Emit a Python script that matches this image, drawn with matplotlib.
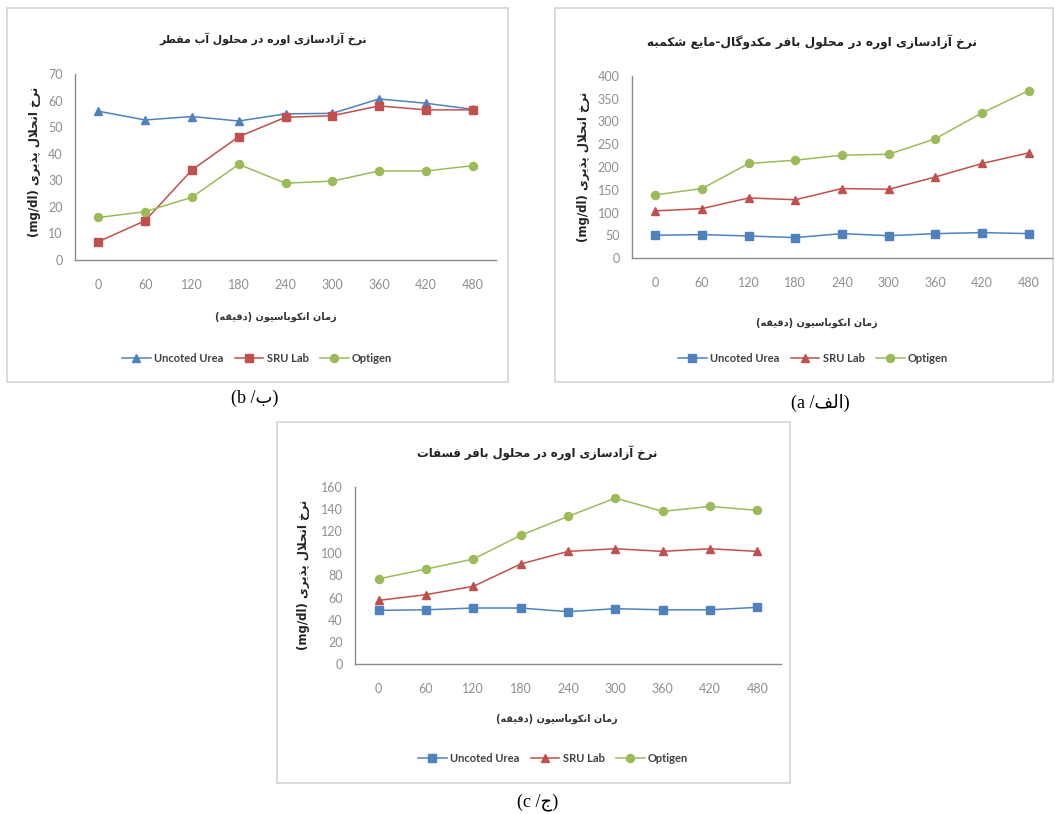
import numpy as np
import matplotlib
matplotlib.use("Agg")
import matplotlib.pyplot as plt
from matplotlib.patches import Rectangle

# Data
minutes = ["0", "60", "120", "180", "240", "300", "360", "420", "480"]
series_names = ["Uncoted Urea", "SRU Lab", "Optigen"]

# (b) distilled water
water_uncoated = [56, 52.7, 54, 52.3, 55, 55.2, 60.6, 59, 56.7]
water_sru = [6.9, 14.8, 33.9, 46.4, 53.7, 54.3, 58, 56.5, 56.5]
water_optigen = [16, 18.2, 23.6, 36, 28.9, 29.7, 33.5, 33.5, 35.5]

# (a) McDougall buffer - rumen fluid
rumen_uncoated = [50, 51.4, 48.4, 44.8, 53.6, 49, 53.6, 55.8, 53.6]
rumen_sru = [103.5, 108.6, 132, 128, 152.7, 151, 178, 207.7, 231]
rumen_optigen = [138.7, 152.7, 207.7, 215, 226, 228, 262, 319, 367.7]

# (c) phosphate buffer
phos_uncoated = [48.5, 49, 50.6, 50.6, 47.3, 50, 49, 49, 51.2]
phos_sru = [57.5, 62.7, 70.2, 90.4, 101.8, 104.2, 101.8, 104.2, 101.8]
phos_optigen = [77, 85.8, 94.9, 116.3, 133.4, 150, 138, 142.5, 138.9]

title_b = "نرخ آزادسازی اوره در محلول آب مقطر"
title_a = "نرخ آزادسازی اوره در محلول بافر مکدوگال-مایع شکمبه"
title_c = "نرخ آزادسازی اوره در محلول بافر فسفات"
xlabel_fa = "زمان انکوباسیون (دقیقه)"
ylabel_fa = "نرخ انحلال پذیری"

BLUE, RED, GREEN = "#4F81BD", "#C0504D", "#9BBB59"

# minimal Persian shaping: isolated, final, initial, medial
FORMS = {
    'ا': ('\uFE8D', '\uFE8E', None, None),
    'آ': ('\uFE81', '\uFE82', None, None),
    'ب': ('\uFE8F', '\uFE90', '\uFE91', '\uFE92'),
    'پ': ('\uFB56', '\uFB57', '\uFB58', '\uFB59'),
    'ت': ('\uFE95', '\uFE96', '\uFE97', '\uFE98'),
    'ج': ('\uFE9D', '\uFE9E', '\uFE9F', '\uFEA0'),
    'ح': ('\uFEA1', '\uFEA2', '\uFEA3', '\uFEA4'),
    'خ': ('\uFEA5', '\uFEA6', '\uFEA7', '\uFEA8'),
    'د': ('\uFEA9', '\uFEAA', None, None),
    'ذ': ('\uFEAB', '\uFEAC', None, None),
    'ر': ('\uFEAD', '\uFEAE', None, None),
    'ز': ('\uFEAF', '\uFEB0', None, None),
    'س': ('\uFEB1', '\uFEB2', '\uFEB3', '\uFEB4'),
    'ش': ('\uFEB5', '\uFEB6', '\uFEB7', '\uFEB8'),
    'ط': ('\uFEC1', '\uFEC2', '\uFEC3', '\uFEC4'),
    'ع': ('\uFEC9', '\uFECA', '\uFECB', '\uFECC'),
    'ف': ('\uFED1', '\uFED2', '\uFED3', '\uFED4'),
    'ق': ('\uFED5', '\uFED6', '\uFED7', '\uFED8'),
    'ک': ('\uFB8E', '\uFB8F', '\uFB90', '\uFB91'),
    'گ': ('\uFB92', '\uFB93', '\uFB94', '\uFB95'),
    'ل': ('\uFEDD', '\uFEDE', '\uFEDF', '\uFEE0'),
    'م': ('\uFEE1', '\uFEE2', '\uFEE3', '\uFEE4'),
    'ن': ('\uFEE5', '\uFEE6', '\uFEE7', '\uFEE8'),
    'ه': ('\uFEE9', '\uFEEA', '\uFEEB', '\uFEEC'),
    'و': ('\uFEED', '\uFEEE', None, None),
    'ی': ('\uFBFC', '\uFBFD', '\uFBFE', '\uFBFF'),
}


def dual(c):
    return c in FORMS and FORMS[c][2] is not None


def fa(text):
    out = []
    n = len(text)
    i = 0
    while i < n:
        c = text[i]
        if c not in FORMS:
            out.append({'(': ')', ')': '('}.get(c, c))
            i += 1
            continue
        prev = text[i - 1] if i > 0 else ''
        joins_prev = dual(prev)
        if c == 'ل' and i + 1 < n and text[i + 1] in 'اآ':
            lig = ('\uFEFB', '\uFEFC') if text[i + 1] == 'ا' else ('\uFEF5', '\uFEF6')
            out.append(lig[1] if joins_prev else lig[0])
            i += 2
            continue
        nxt = text[i + 1] if i + 1 < n else ''
        joins_next = dual(c) and nxt in FORMS
        f = FORMS[c]
        if joins_prev and joins_next:
            out.append(f[3])
        elif joins_prev:
            out.append(f[1])
        elif joins_next:
            out.append(f[2])
        else:
            out.append(f[0])
        i += 1
    return ''.join(reversed(out))


W, H = 1055, 814
FA = ['DejaVu Sans']
LAT = ['Lato', 'DejaVu Sans']

fig = plt.figure(figsize=(W / 100, H / 100), dpi=100)


def fx(x):
    return x / W


def fy(y):
    return 1 - y / H


def frame(l, t, r, b):
    fig.patches.append(Rectangle((fx(l), fy(b)), fx(r - l), (b - t) / H,
                                 transform=fig.transFigure, facecolor='white',
                                 edgecolor='#d4d4d4', lw=1.2, zorder=-5))


def panel(box, ymax, ystep, data, markers, title, tsize, tpos, xlpos, ylpos,
          lgpos):
    l, t, r, b = box
    ax = fig.add_axes([fx(l), fy(b), fx(r - l), (b - t) / H])
    ax.set_facecolor('none')
    x = np.arange(len(minutes))
    colors = [BLUE, RED, GREEN]
    for vals, m, c, name in zip(data, markers, colors, series_names):
        ax.plot(x, vals, color=c, lw=1.1, marker=m, ms=5.8,
                markerfacecolor=c, markeredgecolor=c, label=name,
                clip_on=False)
    ax.set_xlim(-0.5, len(minutes) - 0.5)
    ax.set_ylim(0, ymax)
    ax.set_xticks(x)
    ax.set_xticklabels(minutes)
    ax.set_yticks(np.arange(0, ymax + 1, ystep))
    for s in ['top', 'right']:
        ax.spines[s].set_visible(False)
    for s in ['left', 'bottom']:
        ax.spines[s].set_color('#8c8c8c')
        ax.spines[s].set_linewidth(1.0)
    ax.tick_params(length=0, labelsize=9, labelcolor='#8f8f8f')
    ax.tick_params(axis='x', pad=14)
    ax.tick_params(axis='y', pad=9)
    for lab in ax.get_xticklabels() + ax.get_yticklabels():
        lab.set_family(LAT)
    fig.text(fx(tpos[0]), fy(tpos[1]), fa(title), ha='center', va='center',
             family=FA, fontsize=tsize, fontweight='bold', color='#222222')
    fig.text(fx(xlpos[0]), fy(xlpos[1]), fa(xlabel_fa), ha='center',
             va='center', family=FA, fontsize=7, fontweight='bold',
             color='#333333')
    fig.text(fx(ylpos[0]), fy(ylpos[1]), "(mg/dl) " + fa(ylabel_fa),
             ha='center', va='center', rotation=90, family=FA, fontsize=8.5,
             fontweight='bold', color='#222222')
    leg = ax.legend(loc='center', bbox_to_anchor=(fx(lgpos[0]), fy(lgpos[1])),
                    bbox_transform=fig.transFigure, ncol=3, frameon=False,
                    handlelength=2.6, columnspacing=1.0, handletextpad=0.3,
                    prop={'family': LAT, 'size': 8, 'weight': 'bold'})
    for txt in leg.get_texts():
        txt.set_color('#404040')
    return ax


# (b) top-left
frame(7, 8, 508, 382)
panel((75, 74, 496, 260), 70, 10,
      [water_uncoated, water_sru, water_optigen], ['^', 's', 'o'],
      title_b, 7.8, (263, 39), (276, 317), (35, 162), (257, 358))

# (a) top-right
frame(555, 8, 1053, 382)
panel((632, 76, 1052, 258), 400, 50,
      [rumen_uncoated, rumen_sru, rumen_optigen], ['s', '^', 'o'],
      title_a, 8.7, (812, 42), (817, 323), (584, 167), (813, 358))

# (c) bottom
frame(277, 422, 790, 783)
panel((355, 487, 781, 664), 160, 20,
      [phos_uncoated, phos_sru, phos_optigen], ['s', '^', 'o'],
      title_c, 8.4, (537, 453), (557, 719), (304, 575), (553, 758))

# captions
CAP = ['Liberation Serif', 'DejaVu Sans']
fig.text(fx(255), fy(398), "(b /" + fa("ب") + ")", ha='center', va='center',
         family=CAP, fontsize=13)
fig.text(fx(820), fy(403), "(a /" + fa("الف") + ")", ha='center', va='center',
         family=CAP, fontsize=13)
fig.text(fx(538), fy(802), "(c /" + fa("ج") + ")", ha='center', va='center',
         family=CAP, fontsize=13)

fig.savefig("out.png", dpi=100, facecolor='white')
